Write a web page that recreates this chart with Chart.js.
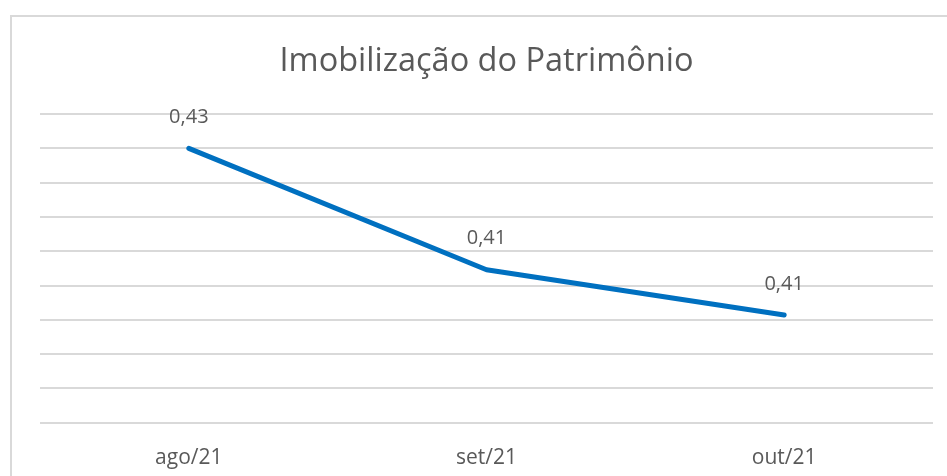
<!DOCTYPE html>
<html>
<head>
<meta charset="utf-8">
<script src="https://cdn.jsdelivr.net/npm/chart.js@4.4.1/dist/chart.umd.min.js"></script>
<style>
    html, body { margin: 0; padding: 0; background: #ffffff; }
    #wrap { position: relative; width: 947px; height: 476px; overflow: hidden; }
    #frame {
        position: absolute; left: 10px; top: 15px; width: 960px; height: 500px;
        border: 2px solid #d9d9d9; box-sizing: border-box;
    }
    canvas { position: absolute; left: 0; top: 0; }
</style>
</head>
<body>
<div id="wrap">
    <div id="frame"></div>
    <canvas id="chart" width="947" height="476"></canvas>
</div>
<script>
// Chart data
const months = ['ago/21', 'set/21', 'out/21'];
const imobilizacao = [0.430, 0.4123, 0.4057];
const axisMin = 0.39;
const axisMax = 0.435;
const axisStep = 0.005;

const textColor = '#595959';
const fontFamily = "'Open Sans', 'Liberation Sans', sans-serif";

// Draws the value above each point (Excel style data labels)
const valueLabels = {
    id: 'valueLabels',
    afterDatasetsDraw(chart) {
        const ctx = chart.ctx;
        const meta = chart.getDatasetMeta(0);
        ctx.save();
        ctx.font = `20px ${fontFamily}`;
        ctx.fillStyle = textColor;
        ctx.textAlign = 'center';
        ctx.textBaseline = 'middle';
        meta.data.forEach((pt, i) => {
            const txt = imobilizacao[i].toFixed(2).replace('.', ',');
            ctx.fillText(txt, pt.x, pt.y - 31);
        });
        ctx.restore();
    }
};

const ctx = document.getElementById('chart').getContext('2d');
new Chart(ctx, {
    type: 'line',
    data: {
        labels: months,
        datasets: [{
            data: imobilizacao,
            borderColor: '#0070c0',
            borderWidth: 5,
            borderCapStyle: 'round',
            borderJoinStyle: 'round',
            pointRadius: 0,
            tension: 0,
            fill: false
        }]
    },
    options: {
        responsive: false,
        animation: false,
        layout: {
            padding: { left: 40, right: 14, top: 0, bottom: -18 }
        },
        plugins: {
            legend: { display: false },
            tooltip: { enabled: false },
            title: {
                display: true,
                text: 'Imobilização do Patrimônio',
                color: textColor,
                font: { family: fontFamily, size: 32.5, weight: 'normal' },
                padding: { top: 42, bottom: 33 }
            }
        },
        scales: {
            x: {
                offset: true,
                grid: { display: false, drawTicks: false },
                border: { display: false },
                ticks: {
                    color: textColor,
                    font: { family: fontFamily, size: 21 },
                    padding: 23
                }
            },
            y: {
                min: axisMin,
                max: axisMax,
                ticks: { display: false, stepSize: axisStep },
                grid: { color: '#d9d9d9', lineWidth: 2, drawTicks: false },
                border: { display: false }
            }
        }
    },
    plugins: [valueLabels]
});
</script>
</body>
</html>
